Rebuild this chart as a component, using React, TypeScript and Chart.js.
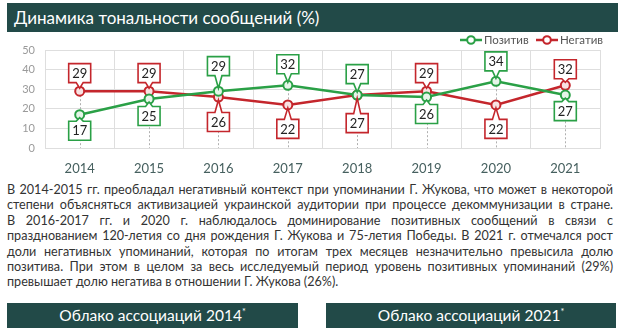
import React, { useEffect, useRef } from 'react';
import { Chart, registerables } from 'chart.js';

Chart.register(...registerables);

const years = ['2014', '2015', '2016', '2017', '2018', '2019', '2020', '2021'];
const positive = [17, 25, 29, 32, 27, 26, 34, 27];
const negative = [29, 29, 26, 22, 27, 29, 22, 32];
const yTicks = [0, 10, 20, 30, 40, 50];
const seriesNames = ['Позитив', 'Негатив'];

const titleText = 'Динамика тональности сообщений (%)';
const paragraphLines = [
  'В 2014-2015 гг. преобладал негативный контекст при упоминании Г. Жукова, что может в некоторой',
  'степени объясняться активизацией украинской аудитории при процессе декоммунизации в стране.',
  'В 2016-2017 гг. и 2020 г. наблюдалось доминирование позитивных сообщений в связи с',
  'празднованием 120-летия со дня рождения Г. Жукова и 75-летия Победы. В 2021 г. отмечался рост',
  'доли негативных упоминаний, которая по итогам трех месяцев незначительно превысила долю',
  'позитива. При этом в целом за весь исследуемый период уровень позитивных упоминаний (29%)',
  'превышает долю негатива в отношении Г. Жукова (26%).',
];
const cloudTitles = ['Облако ассоциаций 2014', 'Облако ассоциаций 2021'];

// styling: label callout offsets (px, relative to point)
const posLabelOffset = [16, 17, -25, -21, -21, 17, -20, 16];
const negLabelOffset = [-18, -18, 25, 24, 28, -18, 24, -16];

const GREEN = '#2aa046';
const RED = '#c4262c';
const TEAL = '#224a48';
const FONT = 'Lato, "Open Sans", sans-serif';

const dropLinesPlugin = {
  id: 'dropLines',
  beforeDatasetsDraw(chart: any) {
    const { ctx, chartArea } = chart;
    const m0 = chart.getDatasetMeta(0).data;
    const m1 = chart.getDatasetMeta(1).data;
    ctx.save();
    ctx.strokeStyle = '#b0b0b0';
    ctx.lineWidth = 1;
    ctx.setLineDash([2, 2]);
    for (let i = 0; i < m0.length; i++) {
      const x = m0[i].x;
      const top = Math.min(m0[i].y, m1[i].y);
      ctx.beginPath();
      ctx.moveTo(Math.round(x) + 0.5, top);
      ctx.lineTo(Math.round(x) + 0.5, chartArea.bottom);
      ctx.stroke();
    }
    ctx.restore();
  },
};

const calloutPlugin = {
  id: 'callouts',
  afterDatasetsDraw(chart: any) {
    const { ctx } = chart;
    const offsets = [posLabelOffset, negLabelOffset];
    chart.data.datasets.forEach((ds: any, di: number) => {
      const meta = chart.getDatasetMeta(di);
      meta.data.forEach((pt: any, i: number) => {
        const off = offsets[di][i];
        const w = 22;
        const h = 19;
        const cx = pt.x;
        const cy = pt.y + off;
        const l = cx - w / 2;
        const r = cx + w / 2;
        const t = cy - h / 2;
        const b = cy + h / 2;
        ctx.save();
        ctx.beginPath();
        if (off < 0) {
          const tipY = pt.y - 3;
          ctx.moveTo(l, t);
          ctx.lineTo(r, t);
          ctx.lineTo(r, b);
          ctx.lineTo(cx + 3.5, b);
          ctx.lineTo(cx, tipY);
          ctx.lineTo(cx - 3.5, b);
          ctx.lineTo(l, b);
        } else {
          const tipY = pt.y + 3;
          ctx.moveTo(l, b);
          ctx.lineTo(r, b);
          ctx.lineTo(r, t);
          ctx.lineTo(cx + 3.5, t);
          ctx.lineTo(cx, tipY);
          ctx.lineTo(cx - 3.5, t);
          ctx.lineTo(l, t);
        }
        ctx.closePath();
        ctx.fillStyle = '#ffffff';
        ctx.fill();
        ctx.strokeStyle = ds.borderColor;
        ctx.lineWidth = 1.6;
        ctx.stroke();
        ctx.fillStyle = '#222';
        ctx.font = '13px ' + FONT;
        ctx.textAlign = 'center';
        ctx.textBaseline = 'middle';
        ctx.fillText(String(ds.data[i]), cx, cy + 0.5);
        ctx.restore();
      });
    });
  },
};

const legendPlugin = {
  id: 'customLegend',
  afterDraw(chart: any) {
    const { ctx } = chart;
    const items = [
      { x: 460, color: GREEN, label: seriesNames[0] },
      { x: 536, color: RED, label: seriesNames[1] },
    ];
    const y = 8;
    ctx.save();
    items.forEach((it) => {
      ctx.strokeStyle = it.color;
      ctx.lineWidth = 2.5;
      ctx.beginPath();
      ctx.moveTo(it.x, y);
      ctx.lineTo(it.x + 22, y);
      ctx.stroke();
      ctx.beginPath();
      ctx.arc(it.x + 11, y, 3.8, 0, Math.PI * 2);
      ctx.fillStyle = '#fff';
      ctx.fill();
      ctx.lineWidth = 2;
      ctx.stroke();
      ctx.fillStyle = '#555';
      ctx.font = '11.5px ' + FONT;
      ctx.textAlign = 'left';
      ctx.textBaseline = 'middle';
      ctx.fillText(it.label, it.x + 24, y + 0.5);
    });
    ctx.restore();
  },
};

function LineChart() {
  const ref = useRef<HTMLCanvasElement>(null);
  useEffect(() => {
    if (!ref.current) return;
    const chart = new Chart(ref.current, {
      type: 'line',
      data: {
        labels: years,
        datasets: [
          {
            label: seriesNames[0],
            data: positive,
            borderColor: GREEN,
            backgroundColor: '#e6f5e9',
            borderWidth: 2.5,
            pointRadius: 4.5,
            pointBorderWidth: 2,
            pointBackgroundColor: '#e6f5e9',
            tension: 0,
          },
          {
            label: seriesNames[1],
            data: negative,
            borderColor: RED,
            backgroundColor: '#f8e2e2',
            borderWidth: 2.5,
            pointRadius: 4.5,
            pointBorderWidth: 2,
            pointBackgroundColor: '#f8e2e2',
            tension: 0,
          },
        ],
      },
      options: {
        animation: false,
        responsive: false,
        maintainAspectRatio: false,
        layout: { padding: { top: 18, right: 20, left: 0, bottom: 0 } },
        plugins: { legend: { display: false }, tooltip: { enabled: false } },
        scales: {
          x: {
            offset: true,
            grid: { offset: true, color: '#dedede', drawTicks: false },
            border: { display: true, color: '#dedede' },
            ticks: { color: '#46605f', font: { size: 13, family: FONT }, padding: 13 },
            afterFit(scale: any) {
              scale.height = 32;
            },
          },
          y: {
            min: yTicks[0],
            max: yTicks[yTicks.length - 1],
            afterBuildTicks(scale: any) {
              scale.ticks = yTicks.map((v) => ({ value: v }));
            },
            grid: { color: '#dedede', drawTicks: false },
            border: { display: true, color: '#dedede' },
            ticks: { color: '#9a9a9a', font: { size: 11, family: FONT }, padding: 10 },
            afterFit(scale: any) {
              scale.width = 45;
            },
          },
        },
      },
      plugins: [dropLinesPlugin, calloutPlugin, legendPlugin],
    } as any);
    return () => chart.destroy();
  }, []);
  return <canvas ref={ref} width={620} height={148} style={{ display: 'block', width: 620, height: 148 }} />;
}

export default function App() {
  return (
    <div
      style={{
        position: 'fixed',
        left: 0,
        top: 0,
        width: 620,
        height: 334,
        background: '#fff',
        fontFamily: FONT,
        overflow: 'hidden',
      }}
    >
      <div
        style={{
          position: 'absolute',
          left: 7,
          top: 3,
          width: 611,
          height: 29,
          background: TEAL,
          color: '#fff',
          fontSize: 17,
          lineHeight: '29px',
          paddingLeft: 7,
          boxSizing: 'border-box',
          whiteSpace: 'nowrap',
        }}
      >
        {titleText}
      </div>
      <div style={{ position: 'absolute', left: 0, top: 32 }}>
        <LineChart />
      </div>
      <div
        style={{
          position: 'absolute',
          left: 7,
          top: 182,
          width: 606,
          fontSize: 12.6,
          lineHeight: '15.4px',
          color: '#333',
        }}
      >
        {paragraphLines.map((ln, i) => (
          <div
            key={i}
            style={{
              whiteSpace: 'nowrap',
              textAlign: i === paragraphLines.length - 1 ? 'left' : 'justify',
              textAlignLast: i === paragraphLines.length - 1 ? 'left' : 'justify',
            }}
          >
            {ln}
          </div>
        ))}
      </div>
      {cloudTitles.map((t, i) => (
        <div
          key={i}
          style={{
            position: 'absolute',
            left: i === 0 ? 7 : 326,
            top: 303,
            width: i === 0 ? 291 : 290,
            height: 25,
            background: TEAL,
            color: '#fff',
            fontSize: 15.5,
            lineHeight: '25px',
            textAlign: 'center',
            whiteSpace: 'nowrap',
          }}
        >
          {t}
          <sup style={{ fontSize: 9, verticalAlign: 'top', lineHeight: '18px' }}>*</sup>
        </div>
      ))}
    </div>
  );
}
